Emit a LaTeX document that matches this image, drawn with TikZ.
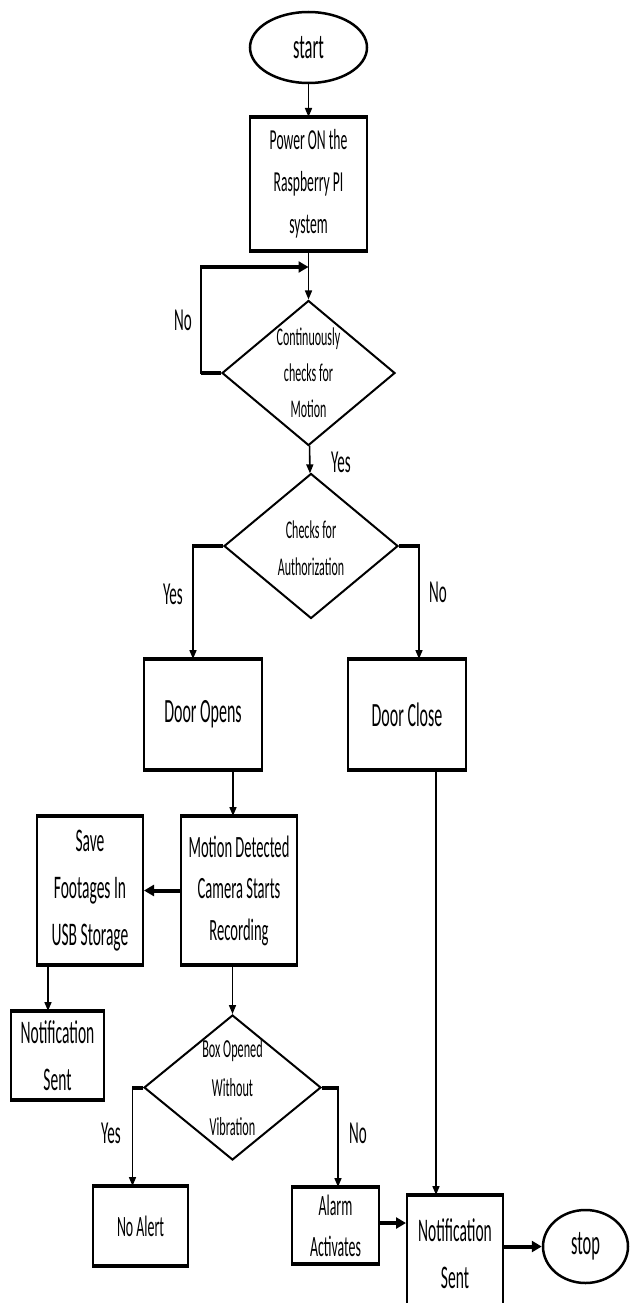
\documentclass[tikz,border=0pt]{standalone}
\usepackage{fontspec}
\setmainfont{Carlito}[FakeStretch=0.47]
\usetikzlibrary{shapes.geometric,arrows.meta}

\begin{document}
\begin{tikzpicture}[x=1pt,y=-1pt,
  box/.style={draw,line width=2pt,rectangle,inner sep=0pt,align=center},
  oval/.style={draw,line width=2.5pt,ellipse,inner sep=0pt},
  dia/.style={draw,line width=2pt,diamond,inner sep=0pt},
  dtext/.style={inner sep=0pt,align=center},
  conn/.style={line width=1.6pt,-{Triangle[length=9pt,width=7pt]}},
  heavy/.style={line width=4pt},
  heavyarrow/.style={line width=4pt,-{Triangle[length=10pt,width=11pt]}},
  lbl/.style={inner sep=0pt,font=\fontsize{32}{38}\selectfont},
]
\useasboundingbox (0,0) rectangle (629,1303);

% terminals
\node[oval,minimum width=117pt,minimum height=71pt,font=\fontsize{35}{40}\selectfont] (start) at (308.5,47.5) {start};
\node[oval,minimum width=85pt,minimum height=73pt,font=\fontsize{35}{40}\selectfont] (stop) at (585.5,1246.5) {stop};

% process boxes
\node[box,minimum width=117pt,minimum height=132pt,font=\fontsize{29}{42}\selectfont] (power) at (308.5,184) {Power ON the\\Raspberry PI\\system};
\node[box,minimum width=118pt,minimum height=109pt,font=\fontsize{34}{40}\selectfont] (dopen) at (203,714.5) {Door Opens};
\node[box,minimum width=118pt,minimum height=109pt,font=\fontsize{34}{40}\selectfont] (dclose) at (407,714.5) {Door Close};
\node[box,minimum width=116pt,minimum height=147pt,font=\fontsize{31}{41.5}\selectfont] (motion) at (239,890.5) {Motion Detected\\Camera Starts\\Recording};
\node[box,minimum width=106pt,minimum height=147pt,font=\fontsize{33}{47}\selectfont] (save) at (90,890.5) {Save\\Footages In\\USB Storage};
\node[box,minimum width=93pt,minimum height=87pt,font=\fontsize{33}{47}\selectfont] (notifL) at (57.5,1055.5) {Notification\\Sent};
\node[box,minimum width=95pt,minimum height=78pt,font=\fontsize{29.5}{40}\selectfont] (noalert) at (140.5,1226) {No Alert};
\node[box,minimum width=87pt,minimum height=75pt,font=\fontsize{29.5}{41}\selectfont] (alarm) at (335.5,1225.5) {Alarm\\Activates};
\node[box,minimum width=96pt,minimum height=116pt,font=\fontsize{33}{47}\selectfont] (notifR) at (455,1254) {Notification\\Sent};

% decisions
\node[dia,minimum width=173pt,minimum height=145pt] (d1) at (308.5,373) {};
\node[dtext,font=\fontsize{25.5}{36}\selectfont] (d1t) at (d1.center) {Continuously\\checks for\\Motion};
\node[dia,minimum width=174pt,minimum height=145pt] (d2) at (311,546) {};
\node[dtext,font=\fontsize{25.5}{37}\selectfont] (d2t) at ([yshift=-2pt]d2.center) {Checks for\\Authorization};
\node[dia,minimum width=177pt,minimum height=145pt] (d3) at (232.5,1087.5) {};
\node[dtext,font=\fontsize{26}{39}\selectfont] (d3t) at (d3.center) {Box Opened\\Without\\Vibration};

% thicker top and bottom edges of the boxes
\foreach \n in {power,dopen,dclose,motion,save,notifL,noalert,alarm,notifR}
  \draw[line width=3.5pt] (\n.north west) -- (\n.north east) (\n.south west) -- (\n.south east);

% entry points of the branch connectors
\coordinate (loopj) at (308.5,267);
\coordinate (inOpen) at ([xshift=-10pt]dopen.north);
\coordinate (inClose) at ([xshift=12pt]dclose.north);
\coordinate (inNoAlert) at ([xshift=-8pt]noalert.north);
\coordinate (inAlarm) at ([xshift=2.5pt]alarm.north);
\coordinate (outOpen) at ([xshift=30pt]dopen.south);
\coordinate (outSave) at ([xshift=-42pt]save.south);
\coordinate (outClose) at ([xshift=29pt]dclose.south);
\coordinate (outAlarm) at ([yshift=2.5pt]alarm.east);

% connectors
\draw[conn] (start) -- (power);
\draw[conn] (power) -- (d1);
\draw[line width=1.8pt] (d1.west) -- ++(-20,0) coordinate (loopc) -- (loopc |- loopj);
\draw[heavy] (d1.west) -- (loopc);
\draw[heavyarrow] ([xshift=-0.9pt]loopc |- loopj) -- (loopj);
\node[lbl] (no1) at (183,320) {No};

\draw[conn] (d1) -- (d2);
\node[lbl] (yes1) at (341,462) {Yes};

\draw[conn] (d2.west) -| (inOpen);
\draw[heavy] (d2.west) -- ([xshift=-1pt]d2.west -| inOpen);
\node[lbl] (yes2) at (173,594) {Yes};
\draw[conn] (d2.east) -| (inClose);
\draw[heavy] (d2.east) -- ([xshift=1pt]d2.east -| inClose);
\node[lbl] (no2) at (438,592) {No};

\draw[conn] (outOpen) -- (outOpen |- motion.north);
\draw[heavyarrow] (motion.west) -- (save.east);
\draw[conn] (outSave) -- (outSave |- notifL.north);
\draw[conn] (d3.north |- motion.south) -- (d3.north);

\draw[conn] (d3.west) -| (inNoAlert);
\draw[heavy] (d3.west) -- ([xshift=-1pt]d3.west -| inNoAlert);
\node[lbl] (yes3) at (111,1133) {Yes};
\draw[conn] (d3.east) -| (inAlarm);
\draw[heavy] (d3.east) -- ([xshift=1pt]d3.east -| inAlarm);
\node[lbl] (no3) at (358,1133) {No};

\draw[conn] (outClose) -- (outClose |- notifR.north);
\draw[heavyarrow] (outAlarm) -- (outAlarm -| notifR.west);
\draw[heavyarrow] (notifR.east |- stop.west) -- (stop.west);
\end{tikzpicture}
\end{document}
